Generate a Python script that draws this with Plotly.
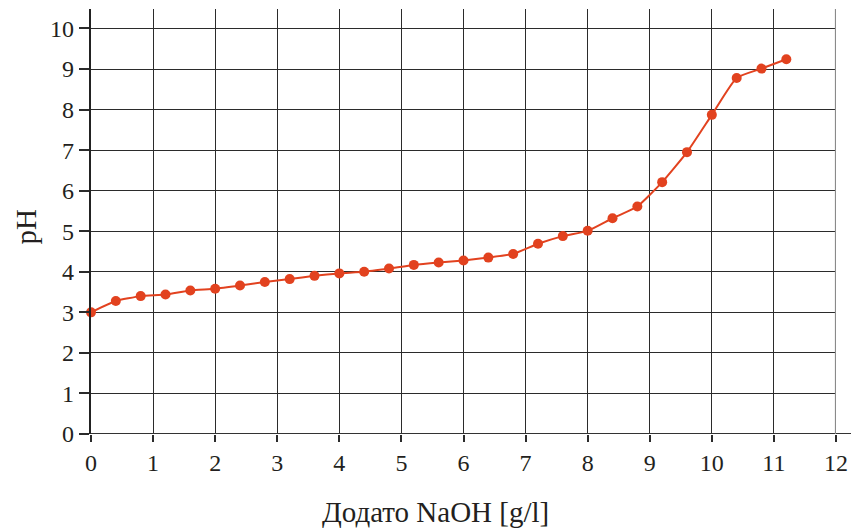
import plotly.graph_objects as go

# Titration curve: pH vs added NaOH
naoh = [0.0, 0.4, 0.8, 1.2, 1.6, 2.0, 2.4, 2.8, 3.2, 3.6, 4.0, 4.4, 4.8, 5.2,
        5.6, 6.0, 6.4, 6.8, 7.2, 7.6, 8.0, 8.4, 8.8, 9.2, 9.6, 10.0, 10.4, 10.8, 11.2]
ph = [3.00, 3.28, 3.40, 3.44, 3.54, 3.58, 3.66, 3.75, 3.82, 3.90, 3.96, 4.00, 4.08, 4.17,
      4.23, 4.28, 4.35, 4.44, 4.69, 4.88, 5.01, 5.32, 5.61, 6.21, 6.95, 7.87, 8.78, 9.01, 9.24]

x_ticks = list(range(0, 13))
y_ticks = list(range(0, 11))

x_title = "Додато NaOH [g/l]"
y_title = "pH"

red = "#E2421F"
grid = "#2b2b2b"
font = "Liberation Serif"

fig = go.Figure()
fig.add_trace(go.Scatter(
    x=naoh, y=ph, mode="lines+markers",
    line=dict(color=red, width=2, shape="spline", smoothing=0.5),
    marker=dict(color=red, size=10),
    showlegend=False, cliponaxis=False,
))

fig.update_layout(
    width=851, height=529,
    margin=dict(l=91, r=15, t=9, b=95, autoexpand=False),
    paper_bgcolor="white", plot_bgcolor="white",
    font=dict(family=font, color="#231f20", size=24),
    xaxis=dict(
        range=[0, 12], tickvals=x_ticks, ticktext=[str(v) for v in x_ticks],
        showgrid=True, gridcolor=grid, gridwidth=1.4, automargin=False,
        zeroline=False, showline=False,
        ticks="outside", ticklen=7, tickwidth=1.5, tickcolor=grid,
        tickfont=dict(family=font, size=24, color="#231f20"),
    ),
    yaxis=dict(
        range=[0, 10.48], tickvals=y_ticks, ticktext=[str(v) for v in y_ticks],
        showgrid=True, gridcolor=grid, gridwidth=1.4, automargin=False,
        zeroline=False, showline=True, linecolor="#222", linewidth=2.2,
        ticks="outside", ticklen=10, tickwidth=1.5, tickcolor=grid,
        tickfont=dict(family=font, size=24, color="#231f20"),
    ),
    shapes=[
        # bottom axis, running past the last tick
        dict(type="line", xref="paper", yref="y", x0=0, x1=1 + 15 / 745, y0=0, y1=0,
             line=dict(color="#333", width=2.2)),
        # right border at x = 12
        dict(type="line", xref="x", yref="paper", x0=12, x1=12, y0=0, y1=1,
             line=dict(color="#8a8a8a", width=2.2)),
    ],
    annotations=[
        dict(text=x_title, xref="paper", yref="paper", x=0.462, y=0,
             yshift=-78, showarrow=False, xanchor="center", yanchor="middle",
             font=dict(family=font, size=29, color="#231f20")),
        dict(text=y_title, xref="paper", yref="paper", x=0, y=0.488,
             xshift=-65, showarrow=False, textangle=-90,
             xanchor="center", yanchor="middle",
             font=dict(family=font, size=29, color="#231f20")),
    ],
)

fig.write_html("out.html")
